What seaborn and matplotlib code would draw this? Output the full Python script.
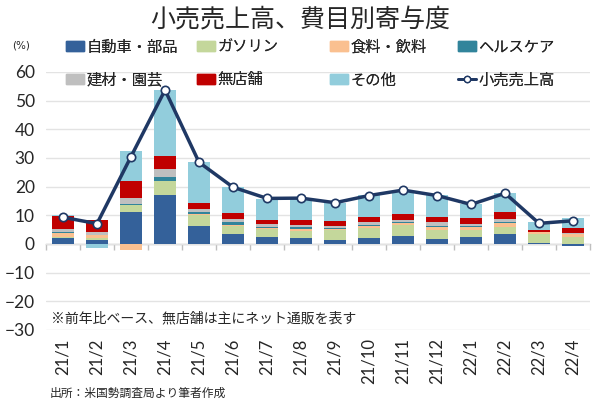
import numpy as np
import pandas as pd
import seaborn as sns
import matplotlib.pyplot as plt
from matplotlib.patches import Patch
from matplotlib.lines import Line2D

# data (contribution, % y/y)
months = ['21/1', '21/2', '21/3', '21/4', '21/5', '21/6', '21/7', '21/8',
          '21/9', '21/10', '21/11', '21/12', '22/1', '22/2', '22/3', '22/4']
autos = [2.0, 1.5, 11.3, 17.1, 6.4, 3.6, 2.6, 2.0, 1.4, 2.0, 2.8, 1.6, 2.3, 3.4, 0.2, -0.7]
gasoline = [0.6, 0.5, 2.3, 4.9, 3.6, 2.8, 2.6, 2.7, 3.5, 3.5, 3.8, 3.3, 2.6, 2.7, 3.3, 2.6]
food = [1.3, 1.0, -2.1, 0.0, 0.3, 0.3, 0.5, 0.6, 0.5, 0.8, 0.7, 1.2, 1.2, 1.2, 0.6, 0.9]
health = [0.3, 0.3, 0.5, 1.5, 1.0, 0.9, 0.3, 0.5, 0.3, 0.3, 0.3, 0.3, 0.3, 0.3, 0.1, 0.1]
building = [0.9, 0.8, 2.0, 2.6, 0.8, 1.0, 0.9, 0.8, 0.5, 0.9, 0.7, 1.1, 0.6, 1.1, 0.1, 0.1]
nonstore = [4.6, 4.3, 5.7, 4.7, 2.1, 2.3, 1.6, 1.9, 1.7, 1.9, 2.3, 1.9, 2.0, 2.3, 0.5, 2.0]
other = [0.3, -1.3, 10.6, 23.0, 14.5, 9.0, 7.2, 7.4, 6.5, 7.8, 7.8, 7.8, 5.0, 6.7, 2.8, 3.3]
retail = [9.3, 7.1, 30.5, 53.7, 28.5, 19.8, 15.9, 16.0, 14.4, 16.9, 18.8, 16.9, 13.8, 17.7, 7.2, 8.1]

labels = ['自動車・部品', 'ガソリン', '食料・飲料', 'ヘルスケア', '建材・園芸', '無店舗', 'その他']
series = [autos, gasoline, food, health, building, nonstore, other]
colors = ['#34619A', '#C4D79B', '#FAC090', '#31849B', '#BFBFBF', '#C00000', '#92CDDC']
line_color = '#1F3864'

sns.set_theme(style='white')
plt.rcParams['font.family'] = ['Noto Sans CJK JP', 'DejaVu Sans']

fig = plt.figure(figsize=(6, 4.04), dpi=100)
ax = fig.add_axes([0.0767, 0.1832, 0.9067, 0.6386])

x = np.arange(len(months))
pos_bottom = np.zeros(len(months))
neg_bottom = np.zeros(len(months))
for vals, c in zip(series, colors):
    vals = np.array(vals)
    bottom = np.where(vals >= 0, pos_bottom, neg_bottom)
    ax.bar(x, vals, width=0.62, bottom=bottom, color=c, linewidth=0, zorder=2)
    pos_bottom += np.where(vals >= 0, vals, 0)
    neg_bottom += np.where(vals < 0, vals, 0)

df_line = pd.DataFrame({'x': x, 'retail': retail})
sns.lineplot(data=df_line, x='x', y='retail', ax=ax, color=line_color, linewidth=2.5,
             marker='o', markersize=6, markerfacecolor='white', markeredgecolor=line_color,
             markeredgewidth=1.2, zorder=3)

ax.set_xlim(-0.5, len(months) - 0.5)
ax.set_ylim(-30, 60)
ax.set_yticks(range(-30, 61, 10))
ax.yaxis.grid(True, color='#E3E3E3', linewidth=1)
ax.set_axisbelow(True)
for s in ax.spines.values():
    s.set_visible(False)
ax.set_xlabel('')
ax.set_ylabel('')
ax.set_xticks(x)
ax.set_xticklabels(months, rotation=90, fontsize=12, family='Lato')
ax.tick_params(axis='x', length=0, pad=6)
ax.tick_params(axis='y', length=0, pad=8, labelsize=12.5)
for t in ax.get_yticklabels():
    t.set_family('Lato')

# category axis drawn at zero with ticks between bars
zero_loc = (0 - (-30)) / 90
sec = ax.secondary_xaxis(zero_loc)
sec.set_xticks(np.arange(-0.5, len(months), 1.0))
sec.set_xticklabels([])
sec.tick_params(axis='x', length=4, color='#BFBFBF', width=1)
sec.spines['bottom'].set_color('#BFBFBF')
sec.spines['bottom'].set_linewidth(1)

fig.text(0.5, 0.952, '小売売上高、費目別寄与度', ha='center', va='center', fontsize=18)
fig.text(0.035, 0.888, '(%)', ha='center', va='center', fontsize=7.5, family='DejaVu Sans')
ax.text(0.01, 0.045, '※前年比ベース、無店舗は主にネット通販を表す', transform=ax.transAxes,
        ha='left', va='center', fontsize=10)
fig.text(0.083, 0.027, '出所：米国勢調査局より筆者作成', ha='left', va='center', fontsize=8.5)

# legend, four columns placed one by one
handles = [Patch(color=c) for c in colors]
handles.append(Line2D([], [], color=line_color, linewidth=2, marker='o', markersize=4.5,
                      markerfacecolor='white', markeredgecolor=line_color))
all_labels = labels + ['小売売上高']
cols = [(0, 4), (1, 5), (2, 6), (3, 7)]
col_x = [0.11, 0.328, 0.55, 0.763]
for (i, j), cx in zip(cols, col_x):
    leg = fig.legend([handles[i], handles[j]], [all_labels[i], all_labels[j]],
                     loc='upper left', bbox_to_anchor=(cx, 0.905), frameon=False,
                     fontsize=11, handlelength=1.2, handleheight=0.6,
                     handletextpad=0.15, labelspacing=1.05, borderpad=0, borderaxespad=0)
    fig.add_artist(leg)

fig.savefig('out.png', dpi=100)
